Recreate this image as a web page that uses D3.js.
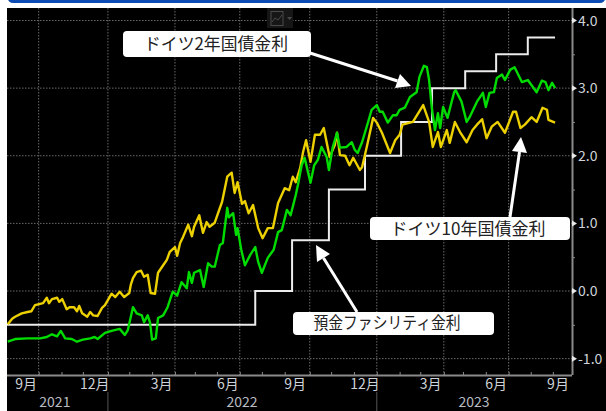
<!DOCTYPE html>
<html><head><meta charset="utf-8">
<script src="https://cdn.jsdelivr.net/npm/d3@7"></script>
<style>html,body{margin:0;padding:0;background:#fff;overflow:hidden}svg{display:block}</style>
</head><body><div id="c"></div>
<script>
// sessions elapsed since the left edge of the chart (mid-Aug 2021)
const days10 = [1,7,11,20,28,33,38,45,49,54,57,61,68,71,75,81,85,91,95,98,102,109,113,117,123,129,133,142,147,153,159,166,168,171,176,182,186,191,195,201,205,212,217,221,228,231,235,239,246,251,254,261,266,271,275,282,292,299,305,309,313,319,323,328,334,341,347,354,361,368,377,383,388,392,398,402,406,412,418,425,430,438,445,448,452,459,465,470,479,482,489,497,502,509,520,527,533,537,551,565,573,578,585,589,597,601,608,615,624,632,638,645,651,658,666,676,687,691,697,703,712,719,727,733,735,744];
const yield10 = [-0.49,-0.41,-0.38,-0.33,-0.31,-0.30,-0.21,-0.19,-0.18,-0.10,-0.18,-0.12,-0.10,-0.16,-0.12,-0.27,-0.24,-0.24,-0.30,-0.22,-0.33,-0.38,-0.31,-0.36,-0.37,-0.25,-0.21,-0.04,-0.09,-0.01,-0.09,-0.03,0.09,0.19,0.28,0.30,0.21,0.24,-0.03,-0.04,0.27,0.38,0.46,0.58,0.65,0.52,0.71,0.80,0.98,0.81,0.95,1.12,0.86,1.02,0.95,1.01,1.32,1.69,1.75,1.45,1.61,1.29,1.33,1.15,1.27,0.93,0.78,0.93,0.93,1.30,1.52,1.49,1.69,1.61,1.82,2.06,2.23,1.91,2.31,2.31,2.41,1.98,2.16,2.34,2.01,2.00,1.86,1.97,1.79,1.83,2.16,2.56,2.49,2.34,2.04,2.23,2.31,2.46,2.50,2.75,2.50,2.13,2.35,2.13,2.38,2.19,2.50,2.35,2.20,2.38,2.46,2.54,2.26,2.43,2.50,2.34,2.65,2.65,2.41,2.46,2.57,2.50,2.71,2.68,2.53,2.49];
const days2 = [1,11,28,35,45,54,61,68,73,79,88,95,103,113,119,123,133,142,153,160,164,171,176,183,186,191,194,197,202,205,212,218,225,231,237,244,247,251,254,262,267,273,278,282,289,293,299,301,307,311,313,318,323,330,337,341,346,354,362,368,373,380,385,392,395,400,404,412,417,422,427,434,437,442,448,452,461,468,472,476,482,490,495,502,506,510,517,524,529,533,540,547,556,560,566,570,573,577,581,585,588,592,598,607,609,617,624,628,638,646,650,655,661,665,672,676,683,689,699,707,719,726,731,735,740,744];
const yield2 = [-0.75,-0.71,-0.70,-0.70,-0.70,-0.68,-0.64,-0.67,-0.59,-0.70,-0.71,-0.75,-0.72,-0.70,-0.68,-0.71,-0.62,-0.59,-0.56,-0.65,-0.58,-0.24,-0.33,-0.36,-0.46,-0.36,-0.46,-0.72,-0.70,-0.40,-0.36,-0.24,-0.01,-0.07,0.13,0.04,0.28,0.12,0.27,0.31,0.06,0.41,0.36,0.36,0.68,0.71,1.23,1.09,1.15,0.83,0.93,0.61,0.38,0.53,0.65,0.43,0.27,0.49,0.61,0.87,0.90,1.20,1.12,1.42,1.57,1.86,1.97,1.60,1.86,1.94,2.13,1.98,1.79,2.12,2.34,2.12,2.13,2.20,2.09,2.04,2.20,2.49,2.68,2.75,2.65,2.65,2.49,2.60,2.60,2.68,2.71,2.87,2.94,3.17,3.33,3.31,3.12,2.68,2.38,2.63,2.41,2.72,2.56,2.94,2.97,2.80,2.50,2.57,2.80,2.93,2.72,2.93,2.94,3.15,3.20,3.12,3.27,3.31,3.09,3.12,2.94,3.11,3.09,2.97,3.08,3.00];
const depositDays = [0,337,387,437,486,535,577,622,664,707,744];
const depositRates = [-0.5,0,0.75,1.5,2.0,2.5,3.0,3.25,3.5,3.75,3.75];
const monthDays = [43,74,103,137,166,197,228,255,285,316,346,377,411,440,471,502,533,561,593,619,650,681,711,741];
const quarterDays = [43,137,228,316,411,502,593,681];
const monthLabelDays = [26,119,210,300,391,486,575,664,748];
const monthLabels = ["9月","12月","3月","6月","9月","12月","3月","6月","9月"];
const yearDays = [137,502];
const yearLabelDays = [65,319,634];
const yearLabels = ["2021","2022","2023"];
const yTicks = [-1,0,1,2,3,4];
const yMinor = [-0.5,0.5,1.5,2.5,3.5];
const label2 = "ドイツ2年国債金利", label10 = "ドイツ10年国債金利", labelDep = "預金ファシリティ金利";

const W = 606, H = 411;
const L = 7, R = 572, T = 8, B = 375;
const svg = d3.select("#c").append("svg").attr("width", W).attr("height", H);
const x = d3.scaleLinear().domain([0, 767]).range([L, R]);
const y = d3.scaleLinear().domain([0, 4]).range([291, 20.5]);
const narrow = "'Liberation Sans Narrow','Noto Sans CJK JP',sans-serif";
const cjk = "'Noto Sans CJK JP',sans-serif";

// page furniture
svg.append("rect").attr("width", W).attr("height", H).attr("fill", "#fff");
svg.append("rect").attr("x", 8).attr("y", -6).attr("width", 597).attr("height", 9).attr("rx", 5).attr("fill", "#0b4bb3");
svg.append("rect").attr("x", L).attr("y", T).attr("width", W - L).attr("height", H - T).attr("fill", "#000");

// grid
const grid = svg.append("g").attr("stroke", "#6a6a6a").attr("stroke-width", 1).attr("stroke-dasharray", "1.5 1.5");
grid.selectAll(".h").data(yTicks).join("line").attr("x1", L).attr("x2", R).attr("y1", d => y(d)).attr("y2", d => y(d));
grid.selectAll(".v").data(quarterDays).join("line").attr("x1", d => x(d)).attr("x2", d => x(d)).attr("y1", T).attr("y2", B);

// chart-type icon
const ic = svg.append("g");
ic.append("rect").attr("x", 267).attr("y", 8).attr("width", 26).attr("height", 20).attr("fill", "#161616");
ic.append("rect").attr("x", 271).attr("y", 11.5).attr("width", 12).attr("height", 14).attr("fill", "none").attr("stroke", "#4a4a4a");
ic.append("path").attr("d", "M272 22L275 18L278 20L282 15").attr("fill", "none").attr("stroke", "#4a4a4a");
ic.append("path").attr("d", "M287 17h5l-2.5 3z").attr("fill", "#4a4a4a");

// series
const line = d3.line().x(d => x(d[0])).y(d => y(d[1]));
svg.append("path").datum(d3.zip(depositDays, depositRates))
  .attr("d", line.curve(d3.curveStepAfter)).attr("fill", "none").attr("stroke", "#ececec").attr("stroke-width", 2);
line.curve(d3.curveLinear);
svg.append("path").datum(d3.zip(days10, yield10)).attr("d", line).attr("fill", "none")
  .attr("stroke", "#ecd000").attr("stroke-width", 2.4).attr("stroke-linejoin", "round");
svg.append("path").datum(d3.zip(days2, yield2)).attr("d", line).attr("fill", "none")
  .attr("stroke", "#00dc00").attr("stroke-width", 2.4).attr("stroke-linejoin", "round");

// axes
const axisColor = "#8a8a8a";
const xAxis = svg.append("g").attr("transform", `translate(0,${B})`)
  .call(d3.axisBottom(x).tickValues(monthDays).tickSize(3).tickFormat(""));
const yAxis = svg.append("g").attr("transform", `translate(${R},0)`)
  .call(d3.axisRight(y).tickValues(yMinor).tickSize(3).tickFormat(""));
[xAxis, yAxis].forEach(a => { a.selectAll("path,line").attr("stroke", axisColor); });
xAxis.selectAll(".tick line").attr("y2", -3);
xAxis.select("path").attr("d", `M${L},0.5H${R}`).attr("stroke-width", 2);
yAxis.select("path").attr("d", `M0.5,${T}V${B}`).attr("stroke-width", 2);

svg.selectAll(".tri").data(yTicks).join("path")
  .attr("d", d => `M${R},${y(d) - 3}L${R + 5},${y(d)}L${R},${y(d) + 3}Z`).attr("fill", "#e8e8e8");
svg.selectAll(".yl").data(yTicks).join("text")
  .attr("x", R + 6).attr("y", d => y(d)).attr("dy", "0.36em")
  .attr("font-family", narrow).attr("font-size", 14).attr("fill", "#cfd3d8")
  .text(d => (d < 0 ? "-" : "") + Math.abs(d).toFixed(1));

svg.selectAll(".ml").data(monthLabels).join("text")
  .attr("x", (d, i) => x(monthLabelDays[i])).attr("y", 389).attr("text-anchor", "middle")
  .attr("font-family", narrow).attr("font-size", 14).attr("fill", "#cfd3d8").text(d => d);
svg.selectAll(".yr").data(yearLabels).join("text")
  .attr("x", (d, i) => x(yearLabelDays[i])).attr("y", 407).attr("text-anchor", "middle")
  .attr("font-family", narrow).attr("font-size", 14).attr("fill", "#b8bcc2").text(d => d);
svg.selectAll(".ys").data(yearDays).join("line")
  .attr("x1", d => x(d)).attr("x2", d => x(d)).attr("y1", 392).attr("y2", H)
  .attr("stroke", "#555");

// callouts
const arrows = [
  {from:[310,53], tip:[411,86], a:[400,74], b:[395,88]},
  {from:[510,217], tip:[521,137], a:[512,151], b:[527,153]},
  {from:[357,312], tip:[316,245], a:[317,262], b:[330,254]}
];
arrows.forEach(s => {
  const mid = [(s.a[0] + s.b[0]) / 2, (s.a[1] + s.b[1]) / 2];
  svg.append("line").attr("x1", s.from[0]).attr("y1", s.from[1]).attr("x2", mid[0]).attr("y2", mid[1])
    .attr("stroke", "#fff").attr("stroke-width", 3);
  svg.append("path").attr("d", `M${s.tip}L${s.a}L${s.b}Z`).attr("fill", "#fff");
});
const boxes = [
  {x:123, y:31, w:188, h:26, cx:216, t:label2, fs:17, len:144},
  {x:370, y:217, w:200, h:23, cx:468, t:label10, fs:17, len:155},
  {x:293, y:312, w:201, h:23, cx:387, t:labelDep, fs:16.5, len:147}
];
boxes.forEach(b => {
  svg.append("rect").attr("x", b.x).attr("y", b.y).attr("width", b.w).attr("height", b.h).attr("rx", 4).attr("fill", "#fff");
  svg.append("text").attr("x", b.cx).attr("y", b.y + b.h / 2).attr("dy", "0.36em").attr("text-anchor", "middle")
    .attr("font-family", cjk).attr("font-size", b.fs).attr("fill", "#222")
    .attr("textLength", b.len).attr("lengthAdjust", "spacingAndGlyphs").text(b.t);
});
</script></body></html>
